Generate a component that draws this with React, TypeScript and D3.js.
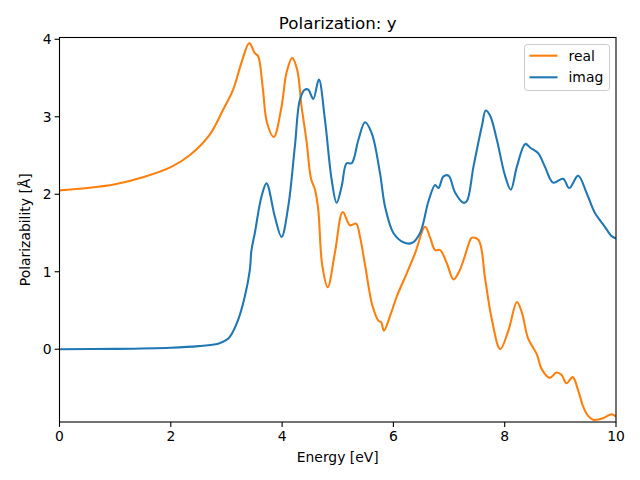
import React from "react";
import * as d3 from "d3";

const realE = [0, 0.5, 1, 1.5, 2, 2.35, 2.7, 2.94, 3.12, 3.27, 3.41, 3.51, 3.57, 3.65, 3.73, 3.85, 3.99, 4.08, 4.18, 4.27, 4.35, 4.44, 4.52, 4.59, 4.65, 4.72, 4.82, 4.95, 5.09, 5.22, 5.33, 5.4, 5.49, 5.62, 5.73, 5.78, 5.83, 5.95, 6.06, 6.24, 6.39, 6.57, 6.66, 6.75, 6.84, 6.96, 7.08, 7.18, 7.26, 7.38, 7.41, 7.53, 7.65, 7.77, 7.92, 8.07, 8.22, 8.31, 8.42, 8.58, 8.66, 8.81, 8.93, 9.02, 9.11, 9.22, 9.32, 9.41, 9.5, 9.59, 9.77, 9.92, 10];
const realV = [2.05, 2.08, 2.13, 2.22, 2.35, 2.51, 2.77, 3.09, 3.35, 3.7, 3.95, 3.82, 3.78, 3.39, 2.92, 2.74, 3.13, 3.57, 3.76, 3.61, 3.13, 2.68, 2.2, 2.06, 1.8, 1.09, 0.8, 1.25, 1.77, 1.6, 1.62, 1.45, 1.09, 0.57, 0.37, 0.35, 0.24, 0.45, 0.68, 0.98, 1.24, 1.58, 1.44, 1.28, 1.28, 1.11, 0.9, 1.0, 1.15, 1.41, 1.44, 1.41, 0.9, 0.38, 0.0, 0.25, 0.61, 0.47, 0.14, -0.07, -0.25, -0.37, -0.3, -0.33, -0.44, -0.36, -0.53, -0.74, -0.86, -0.91, -0.89, -0.84, -0.87];

const imagE = [0, 1, 2, 2.5, 2.85, 3.0, 3.06, 3.21, 3.33, 3.42, 3.45, 3.51, 3.63, 3.72, 3.87, 3.99, 4.11, 4.23, 4.32, 4.41, 4.47, 4.56, 4.66, 4.77, 4.89, 4.98, 5.07, 5.16, 5.25, 5.37, 5.49, 5.61, 5.76, 5.85, 6.0, 6.18, 6.33, 6.48, 6.63, 6.75, 6.81, 6.9, 6.99, 7.11, 7.26, 7.32, 7.44, 7.59, 7.66, 7.74, 7.86, 8.01, 8.11, 8.22, 8.37, 8.46, 8.6, 8.72, 8.87, 9.05, 9.16, 9.32, 9.47, 9.62, 9.8, 9.92, 10];
const imagV = [0, 0.005, 0.02, 0.04, 0.07, 0.12, 0.16, 0.38, 0.68, 1.02, 1.28, 1.5, 1.97, 2.14, 1.71, 1.45, 1.84, 2.62, 3.22, 3.35, 3.35, 3.23, 3.48, 2.96, 2.19, 1.89, 2.1, 2.4, 2.4, 2.7, 2.93, 2.79, 2.27, 1.84, 1.5, 1.38, 1.37, 1.5, 1.91, 2.12, 2.08, 2.23, 2.24, 2.02, 1.89, 1.91, 2.36, 2.88, 3.08, 3.01, 2.7, 2.23, 2.06, 2.36, 2.65, 2.6, 2.53, 2.36, 2.15, 2.2, 2.08, 2.24, 2.02, 1.76, 1.58, 1.46, 1.43];

const xTicks = [0, 2, 4, 6, 8, 10];
const yTicks = [0, 1, 2, 3, 4];

const W = 640, H = 480;
const left = 59.5, right = 616, top = 37.5, bottom = 422;

export default function App() {
  const x = d3.scaleLinear().domain([0, 10]).range([left, right]);
  const y = d3.scaleLinear().domain([-0.939, 4.023]).range([bottom, top]);
  const line = d3.line<number>().curve(d3.curveCatmullRom.alpha(0.5));
  const realPath = line(realE.map((e, i) => [x(e), y(realV[i])]) as any);
  const imagPath = line(imagE.map((e, i) => [x(e), y(imagV[i])]) as any);
  const font = "DejaVu Sans, sans-serif";
  return (
    <svg width={W} height={H} style={{ position: "absolute", left: 0, top: 0, background: "#fff" }} fontFamily={font}>
      <rect x={0} y={0} width={W} height={H} fill="#fff" />
      <defs>
        <clipPath id="clip"><rect x={left} y={top} width={right - left} height={bottom - top} /></clipPath>
      </defs>
      <g clipPath="url(#clip)">
        <path d={realPath || ""} fill="none" stroke="#ff7f0e" strokeWidth={2.08} strokeLinejoin="round" />
        <path d={imagPath || ""} fill="none" stroke="#1f77b4" strokeWidth={2.08} strokeLinejoin="round" />
      </g>
      <rect x={left} y={top} width={right - left} height={bottom - top} fill="none" stroke="#000" strokeWidth={1.1} />
      {xTicks.map(t => (
        <g key={"x" + t}>
          <line x1={x(t)} x2={x(t)} y1={bottom} y2={bottom + 4.9} stroke="#000" strokeWidth={1.1} />
          <text x={x(t)} y={bottom + 19} textAnchor="middle" fontSize={13.9}>{t}</text>
        </g>
      ))}
      {yTicks.map(t => (
        <g key={"y" + t}>
          <line x1={left} x2={left - 4.9} y1={y(t)} y2={y(t)} stroke="#000" strokeWidth={1.1} />
          <text x={left - 8} y={y(t) + 5} textAnchor="end" fontSize={13.9}>{t}</text>
        </g>
      ))}
      <text x={(left + right) / 2} y={462} textAnchor="middle" fontSize={13.9}>Energy [eV]</text>
      <text transform={`translate(30,${(top + bottom) / 2}) rotate(-90)`} textAnchor="middle" fontSize={13.9}>Polarizability [Å]</text>
      <text x={(left + right) / 2} y={29} textAnchor="middle" fontSize={16.7}>Polarization: y</text>
      <g>
        <rect x={524.5} y={44.5} width={85} height={46} rx={3} fill="#fff" fillOpacity={0.8} stroke="#cccccc" strokeWidth={1} />
        <line x1={529.5} x2={557.5} y1={55.7} y2={55.7} stroke="#ff7f0e" strokeWidth={2.08} />
        <text x={568.5} y={60.5} fontSize={13.9}>real</text>
        <line x1={529.5} x2={557.5} y1={77.3} y2={77.3} stroke="#1f77b4" strokeWidth={2.08} />
        <text x={568.5} y={82.3} fontSize={13.9}>imag</text>
      </g>
    </svg>
  );
}
